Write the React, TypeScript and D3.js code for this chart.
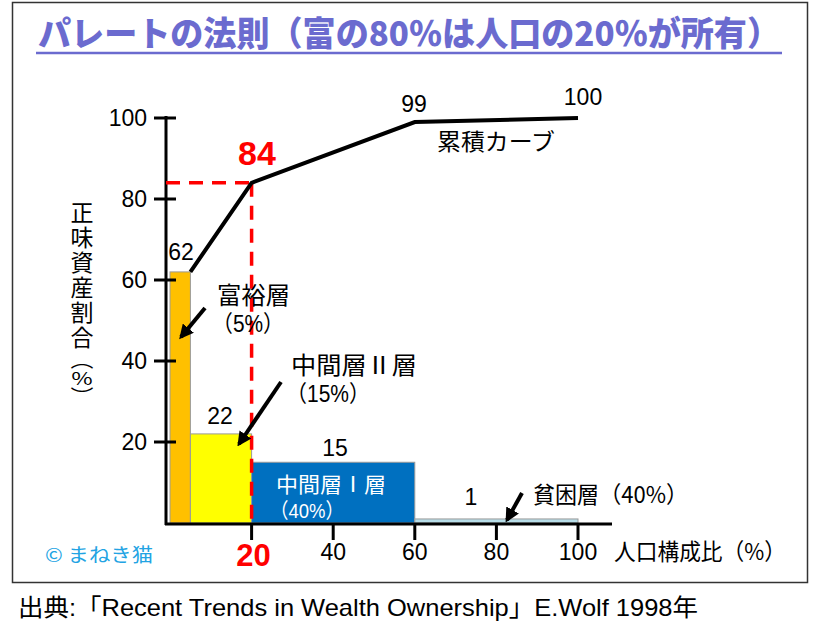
import React from "react";
import * as d3 from "d3";

const groups = ["富裕層", "中間層Ⅱ層", "中間層Ⅰ層", "貧困層"];
const groupShares = ["（5%）", "（15%）", "（40%）", "（40%）"];
const popStart = [0, 5, 20, 60];
const popEnd = [5, 20, 60, 100];
const wealthShare = [62, 22, 15, 1];
const barColors = ["#FFC000", "#FFFF00", "#0070C0", "#B7DDE8"];
const cumX = [5, 20, 60, 100];
const cumY = [62, 84, 99, 100];
const yTicks = [20, 40, 60, 80, 100];
const xTicks = [20, 40, 60, 80, 100];

const JP = "'Noto Sans CJK JP', 'Noto Sans', sans-serif";
const LS = "'Liberation Sans', Arial, sans-serif";
const MIX = "'Liberation Sans', 'Noto Sans CJK JP', sans-serif";

export default function App() {
  const x = d3.scaleLinear().domain([0, 100]).range([170, 578]);
  const y = d3.scaleLinear().domain([0, 100]).range([523, 118]);
  const line = d3
    .line<number>()
    .x((_, i) => x(cumX[i]))
    .y((d) => y(d));
  const axisX = 166;

  return (
    <svg
      lang="ja"
      width={820}
      height={638}
      style={{ position: "absolute", left: 0, top: 0, background: "#fff" }}
    >
      <defs>
        <marker
          id="ah"
          viewBox="0 0 10 10"
          refX="8"
          refY="5"
          markerWidth="3.6"
          markerHeight="3.6"
          orient="auto"
        >
          <path d="M0,0 L10,5 L0,10 z" fill="#000" />
        </marker>
      </defs>
      {/* frame */}
      <rect x={12.5} y={2.5} width={795} height={580} fill="#fff" stroke="#333" strokeWidth={1.5} />
      {/* title */}
      <text
        x={38}
        y={46}
        fontFamily={JP}
        fontWeight={900}
        fontSize={34}
        fill="#6B6BCF"
        textLength={742}
        lengthAdjust="spacingAndGlyphs"
      >
        パレートの法則（富の80％は人口の20％が所有）
      </text>
      <line x1={36} x2={782} y1={53} y2={53} stroke="#6B6BCF" strokeWidth={2.5} />

      {/* bars */}
      {wealthShare.map((v, i) => (
        <rect
          key={groups[i]}
          x={x(popStart[i])}
          y={y(v)}
          width={x(popEnd[i]) - x(popStart[i])}
          height={y(0) - y(v)}
          fill={barColors[i]}
          stroke="#9a9a9a"
          strokeWidth={1}
        />
      ))}

      {/* axes */}
      <line x1={axisX} x2={axisX} y1={116} y2={525} stroke="#000" strokeWidth={3} />
      <line x1={axisX - 1} x2={612} y1={524} y2={524} stroke="#000" strokeWidth={3} />
      {yTicks.map((t) => (
        <g key={"y" + t}>
          <line x1={axisX - 12} x2={axisX + 10} y1={y(t)} y2={y(t)} stroke="#000" strokeWidth={3} />
          <text x={147} y={y(t) + 8} textAnchor="end" fontFamily={LS} fontSize={23} fill="#000">
            {t}
          </text>
        </g>
      ))}
      {xTicks.map((t) => (
        <g key={"x" + t}>
          <line x1={x(t)} x2={x(t)} y1={524} y2={540} stroke="#000" strokeWidth={3} />
          {t === 20 ? (
            <text x={x(t) + 2} y={566} textAnchor="middle" fontFamily={LS} fontWeight={700} fontSize={31} fill="#FF0000">
              {t}
            </text>
          ) : (
            <text x={x(t)} y={560} textAnchor="middle" fontFamily={LS} fontSize={23} fill="#000">
              {t}
            </text>
          )}
        </g>
      ))}

      {/* red dashed guides */}
      <line x1={axisX} x2={x(20)} y1={y(84)} y2={y(84)} stroke="#FF0000" strokeWidth={3.5} strokeDasharray="14 9" />
      <line x1={x(20)} x2={x(20)} y1={y(84)} y2={524} stroke="#FF0000" strokeWidth={3.5} strokeDasharray="14 9" />

      {/* cumulative curve */}
      <path d={line(cumY) || ""} fill="none" stroke="#000" strokeWidth={4} />

      {/* value labels */}
      <text x={181} y={260} textAnchor="middle" fontFamily={LS} fontSize={23}>{wealthShare[0]}</text>
      <text x={220} y={424} textAnchor="middle" fontFamily={LS} fontSize={23}>{wealthShare[1]}</text>
      <text x={335} y={456} textAnchor="middle" fontFamily={LS} fontSize={23}>{wealthShare[2]}</text>
      <text x={471} y={505} textAnchor="middle" fontFamily={LS} fontSize={23}>{wealthShare[3]}</text>
      <text x={414} y={112} textAnchor="middle" fontFamily={LS} fontSize={23}>{cumY[2]}</text>
      <text x={583} y={105} textAnchor="middle" fontFamily={LS} fontSize={23}>{cumY[3]}</text>
      <text x={257} y={165} textAnchor="middle" fontFamily={LS} fontWeight={700} fontSize={34} fill="#FF0000">{cumY[1]}</text>
      <text x={437} y={150} fontFamily={JP} fontSize={23} textLength={118} lengthAdjust="spacingAndGlyphs">累積カーブ</text>

      {/* group annotations */}
      <text x={217} y={304} fontFamily={MIX} fontSize={24} textLength={73} lengthAdjust="spacingAndGlyphs">{groups[0]}</text>
      <text x={212} y={332} fontFamily={MIX} fontSize={23} textLength={72} lengthAdjust="spacingAndGlyphs">{groupShares[0]}</text>
      <line x1={205} y1={308} x2={181} y2={337} stroke="#000" strokeWidth={4} markerEnd="url(#ah)" />

      <text x={291} y={374} fontFamily={MIX} fontSize={24} textLength={126} lengthAdjust="spacingAndGlyphs">{groups[1]}</text>
      <text x={286} y={402} fontFamily={MIX} fontSize={23} textLength={84} lengthAdjust="spacingAndGlyphs">{groupShares[1]}</text>
      <line x1={281} y1={382} x2={239} y2={444} stroke="#000" strokeWidth={4} markerEnd="url(#ah)" />

      <text x={276} y={492} fontFamily={MIX} fontSize={21} fill="#fff" textLength={110} lengthAdjust="spacingAndGlyphs">{groups[2]}</text>
      <text x={270} y={518} fontFamily={MIX} fontSize={21} fill="#fff" textLength={74} lengthAdjust="spacingAndGlyphs">{groupShares[2]}</text>

      <text x={533} y={503} fontFamily={JP} fontSize={23} textLength={155} lengthAdjust="spacingAndGlyphs">{groups[3] + groupShares[3]}</text>
      <line x1={522} y1={493} x2={507} y2={520} stroke="#000" strokeWidth={4} markerEnd="url(#ah)" />

      {/* axis titles */}
      <text x={614} y={560} fontFamily={JP} fontSize={23} textLength={172} lengthAdjust="spacingAndGlyphs">人口構成比（%）</text>
      <text
        x={82}
        y={201}
        fontFamily={JP}
        fontSize={23}
        letterSpacing={2}
        style={{ writingMode: "vertical-rl", textOrientation: "upright" } as any}
      >
        正味資産割合
      </text>
      <text
        x={82}
        y={352}
        fontFamily={JP}
        fontSize={23}
        textLength={52}
        lengthAdjust="spacingAndGlyphs"
        style={{ writingMode: "vertical-rl", textOrientation: "upright" } as any}
      >
        （％）
      </text>

      {/* credit */}
      <text x={45} y={562} fontFamily={JP} fontSize={19} fill="#22A3E3" textLength={108} lengthAdjust="spacingAndGlyphs">©  まねき猫</text>

      {/* source */}
      <text
        x={18}
        y={616}
        fontFamily={LS + ", " + JP}
        fontSize={24}
        textLength={680}
        lengthAdjust="spacingAndGlyphs"
      >
        出典:「Recent Trends in Wealth Ownership」E.Wolf 1998年
      </text>
    </svg>
  );
}
